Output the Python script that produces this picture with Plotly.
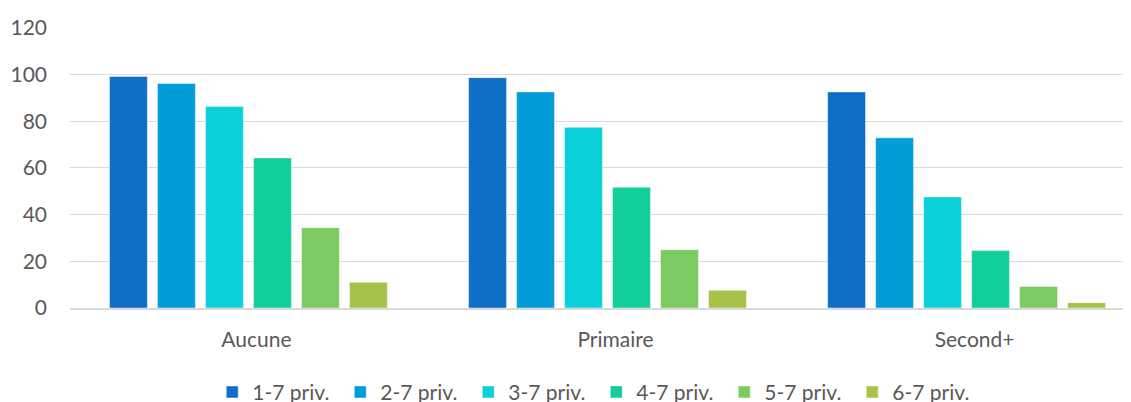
import plotly.graph_objects as go

categories = ["Aucune", "Primaire", "Second+"]
series_names = ["1-7 priv.", "2-7 priv.", "3-7 priv.", "4-7 priv.", "5-7 priv.", "6-7 priv."]
v_1_7 = [99.2, 98.7, 92.6]
v_2_7 = [96.2, 92.6, 72.9]
v_3_7 = [86.3, 77.4, 47.6]
v_4_7 = [64.3, 51.7, 24.6]
v_5_7 = [34.4, 25.0, 9.2]
v_6_7 = [11.0, 7.6, 2.3]
y_ticks = [0, 20, 40, 60, 80, 100, 120]

colors = ["#0F6FC6", "#009DD9", "#0BD0D9", "#10CF9B", "#7CCA62", "#A5C249"]
values = [v_1_7, v_2_7, v_3_7, v_4_7, v_5_7, v_6_7]

fig = go.Figure()
for name, vals, col in zip(series_names, values, colors):
    fig.add_trace(go.Bar(
        x=categories, y=vals, name=name,
        marker=dict(color=col, line=dict(color="rgba(255,255,255,0.45)", width=1)),
    ))

# page body has an 8px margin, so the figure is shrunk by that much
fig.update_layout(
    width=1123, height=394,
    barmode="group", bargap=0.198, bargroupgap=0.21,
    plot_bgcolor="white", paper_bgcolor="white",
    font=dict(family="Lato", size=21, color="#595959"),
    margin=dict(l=62, r=0, t=19, b=94, autoexpand=False),
    showlegend=True,
    legend=dict(orientation="h", x=0.496, xanchor="center", y=-0.30, yanchor="middle",
                font=dict(size=21, color="#595959"), itemwidth=30,
                entrywidth=83, entrywidthmode="pixels"),
    xaxis=dict(range=[-0.497, 2.458], showgrid=False, showline=True,
               linecolor="#d9d9d9", linewidth=1.5, ticklabelstandoff=12,
               ticklabelshift=8),
    yaxis=dict(range=[0, 120.4], tickvals=y_ticks, showgrid=True, gridcolor="#d9d9d9",
               gridwidth=1.3, zeroline=False, showline=False, ticklabelstandoff=22),
)

fig.write_html("out.html")
